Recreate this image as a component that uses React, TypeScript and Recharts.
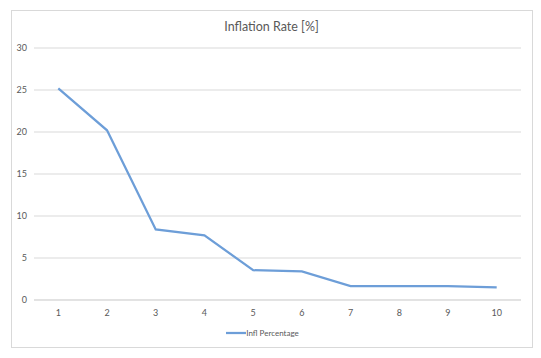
import React from 'react';
import { LineChart, Line, XAxis, YAxis, CartesianGrid, Legend } from 'recharts';

// values
const years = ['1', '2', '3', '4', '5', '6', '7', '8', '9', '10'];
const inflPercentage = [25.2, 20.2, 8.4, 7.7, 3.55, 3.4, 1.65, 1.65, 1.65, 1.5];
const yTicks = [0, 5, 10, 15, 20, 25, 30];

const data = years.map((name, i) => ({ name, 'Infl Percentage': inflPercentage[i] }));

const font = 'Lato, "Open Sans", sans-serif';
const lineColor = '#6d9ed8';
const textColor = '#595959';

const LegendContent = () => (
  <div style={{ display: 'flex', justifyContent: 'center', alignItems: 'center', fontFamily: font, height: 12 }}>
    <svg width={20} height={10}>
      <line x1={0} y1={5} x2={20} y2={5} stroke={lineColor} strokeWidth={2.25} />
    </svg>
    <span style={{ fontSize: 8, color: textColor }}>Infl Percentage</span>
  </div>
);

export default function App() {
  return (
    <div style={{ position: 'fixed', left: 0, top: 0, width: 541, height: 358, background: '#fff', fontFamily: font }}>
      <div
        style={{
          position: 'absolute',
          left: 11,
          top: 10,
          width: 520,
          height: 336,
          border: '1px solid #d9d9d9',
        }}
      />
      <div
        style={{
          position: 'absolute',
          left: 0,
          top: 19,
          width: 543,
          textAlign: 'center',
          fontSize: 12.5,
          color: textColor,
        }}
      >
        Inflation Rate [%]
      </div>
      <div style={{ position: 'absolute', left: 0, top: 0 }}>
        <LineChart width={541} height={358} data={data} margin={{ top: 48, right: 20, bottom: 16, left: 0 }}>
          <CartesianGrid vertical={false} stroke="#d9d9d9" strokeWidth={1} />
          <XAxis
            dataKey="name"
            height={30}
            padding={{ left: 24.3, right: 24.3 }}
            axisLine={{ stroke: '#d9d9d9' }}
            tickLine={false}
            tick={{ fontSize: 9, fill: textColor, fontFamily: font }}
            tickMargin={4}
            interval={0}
          />
          <YAxis
            width={34}
            domain={[0, 30]}
            ticks={yTicks}
            axisLine={false}
            tickLine={false}
            tickSize={5}
            tickMargin={2}
            tick={{ fontSize: 9, fill: textColor, fontFamily: font }}
          />
          <Legend verticalAlign="bottom" wrapperStyle={{ bottom: 19, left: 2 }} content={LegendContent} />
          <Line
            type="linear"
            dataKey="Infl Percentage"
            stroke={lineColor}
            strokeWidth={2.25}
            dot={false}
            isAnimationActive={false}
          />
        </LineChart>
      </div>
    </div>
  );
}
